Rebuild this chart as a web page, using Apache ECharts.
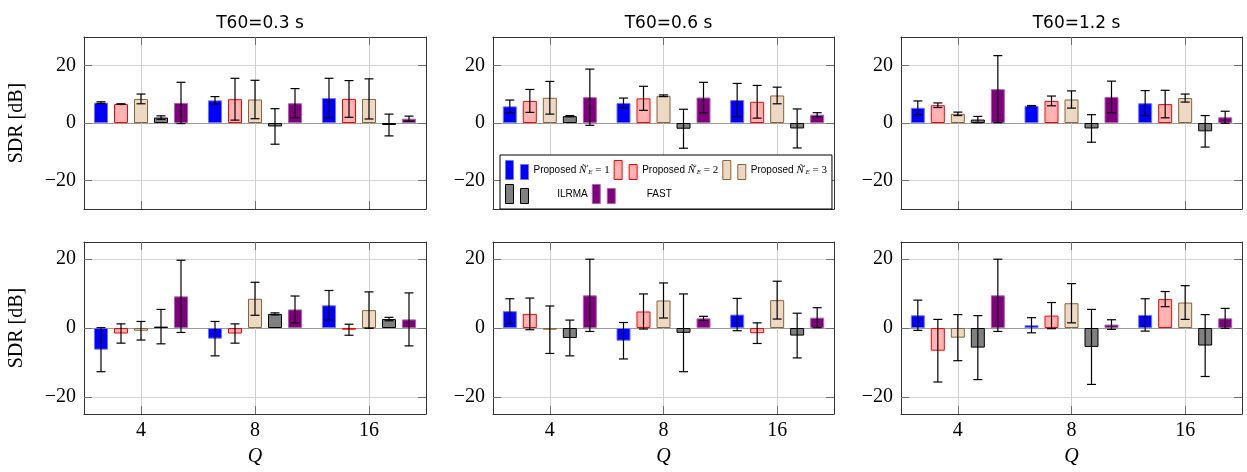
<!DOCTYPE html>
<html>
<head>
<meta charset="utf-8">
<script src="https://cdn.jsdelivr.net/npm/echarts@6/dist/echarts.min.js"></script>
<style>
  html, body { margin: 0; padding: 0; background: #fff; }
  #chart { width: 1247px; height: 472px; }
</style>
</head>
<body>
<div id="chart"></div>
<script>
// categories and panel titles
const qLabels = ['4', '8', '16']
const t60Titles = ['T60=0.3 s', 'T60=0.6 s', 'T60=1.2 s']
const methodNames = ['Proposed Ñ′E = 1', 'Proposed Ñ′E = 2', 'Proposed Ñ′E = 3', 'ILRMA', 'FAST']
const yTicks = [-20, 0, 20]

// rows: top T60=0.3, 0.6, 1.2, then bottom T60=0.3, 0.6, 1.2 ; columns: Q = 4, 8, 16
const prop1Mean = [
  [7.1, 7.9, 8.7],
  [5.8, 7.0, 8.0],
  [5.3, 6.0, 6.9],
  [-6.3, -3.1, 6.6],
  [4.9, -3.7, 3.9],
  [3.7, 0.8, 3.8]
]
const prop1Err = [
  [0.3, 1.3, 6.9],
  [2.2, 1.7, 5.8],
  [2.4, 0.1, 4.4],
  [6.4, 5.0, 4.3],
  [3.6, 5.3, 4.7],
  [4.4, 2.2, 4.7]
]
const prop2Mean = [
  [6.6, 8.3, 8.4],
  [7.7, 8.6, 7.4],
  [6.2, 7.7, 6.6],
  [-1.6, -1.6, -0.5],
  [4.1, 4.8, -1.5],
  [-6.6, 3.6, 8.4]
]
const prop2Err = [
  [0.1, 7.3, 6.4],
  [4.0, 4.2, 5.7],
  [0.8, 1.7, 4.8],
  [2.8, 2.8, 1.6],
  [4.6, 5.1, 3.0],
  [9.1, 3.8, 2.2]
]
const prop3Mean = [
  [8.4, 8.2, 8.4],
  [8.8, 9.5, 9.6],
  [3.2, 8.2, 8.7],
  [-0.8, 8.5, 5.2],
  [-0.5, 8.0, 8.1],
  [-2.8, 7.2, 7.4]
]
const prop3Err = [
  [1.7, 6.7, 7.0],
  [5.7, 0.3, 2.9],
  [0.6, 3.0, 1.4],
  [2.7, 4.8, 5.3],
  [6.9, 5.1, 5.5],
  [6.7, 5.7, 4.9]
]
const ilrmaMean = [
  [1.9, -1.2, -0.7],
  [2.4, -2.0, -1.9],
  [1.2, -1.9, -2.9],
  [0.4, 4.1, 2.6],
  [-2.9, -1.4, -2.2],
  [-5.7, -5.5, -5.1]
]
const ilrmaErr = [
  [0.6, 6.2, 3.8],
  [0.2, 6.8, 6.8],
  [1.1, 4.8, 5.5],
  [5.0, 0.3, 0.5],
  [5.2, 11.3, 6.5],
  [9.3, 10.9, 9.0]
]
const fastMean = [
  [7.0, 6.9, 1.5],
  [9.0, 8.9, 2.9],
  [11.8, 9.1, 2.0],
  [9.2, 5.4, 2.5],
  [9.5, 2.8, 3.0],
  [9.5, 1.0, 2.8]
]
const fastErr = [
  [7.2, 5.1, 0.9],
  [9.8, 5.3, 0.7],
  [11.7, 5.5, 2.1],
  [10.5, 3.9, 7.7],
  [10.5, 0.6, 2.9],
  [10.5, 1.4, 2.9]
]

const means = [prop1Mean, prop2Mean, prop3Mean, ilrmaMean, fastMean]
const errs = [prop1Err, prop2Err, prop3Err, ilrmaErr, fastErr]

const barStyles = [
  { color: '#0000ff', borderColor: '#7373ff' },
  { color: '#ffb3b3', borderColor: '#ff0000' },
  { color: '#ecd9c4', borderColor: '#8e6136' },
  { color: '#808080', borderColor: '#000000' },
  { color: '#800080', borderColor: '#a866a8' }
]

const SERIF = '"Liberation Serif", "DejaVu Serif", serif'
const SANS = '"Liberation Sans", Arial, sans-serif'
const BAR_W = 14
const BAR_STEP = 20
const CAP = 4.5

const gridLefts = [84, 493, 901]
const gridWidths = [342, 341, 341]
const gridTops = [37, 242]
const GRID_H = 172
const yRanges = [[-30, 30], [-25, 25]]

const legendIcon = 'path://M0,0h8v19h-8z M15,4h8v15h-8z'

const errorBar = offset => (params, api) => {
  const ci = api.value(0)
  const m = api.value(1)
  const e = api.value(2)
  const hi = api.coord([ci, m + e])
  const lo = api.coord([ci, m - e])
  const x = hi[0] + offset
  const style = { stroke: '#000', lineWidth: 1.2 }
  return {
    type: 'group',
    children: [
      { type: 'line', shape: { x1: x, y1: hi[1], x2: x, y2: lo[1] }, style },
      { type: 'line', shape: { x1: x - CAP, y1: hi[1], x2: x + CAP, y2: hi[1] }, style },
      { type: 'line', shape: { x1: x - CAP, y1: lo[1], x2: x + CAP, y2: lo[1] }, style }
    ]
  }
}

const grids = []
const xAxes = []
const yAxes = []
const titles = []
const series = []

for (let p = 0; p < 6; p++) {
  const row = Math.floor(p / 3)
  const col = p % 3
  grids.push({ left: gridLefts[col], top: gridTops[row], width: gridWidths[col], height: GRID_H })
  if (row === 0) {
    titles.push({
      text: t60Titles[col],
      left: gridLefts[col] + gridWidths[col] / 2,
      top: 10,
      textAlign: 'center',
      textStyle: { fontFamily: '"DejaVu Sans", sans-serif', fontSize: 17, fontWeight: 'normal', color: '#000' }
    })
  }
  const tick = { show: true, inside: true, length: 8, alignWithLabel: true, lineStyle: { color: '#6e6e6e', width: 1 } }
  xAxes.push({
    gridIndex: p, type: 'category', data: qLabels, position: 'bottom',
    axisLine: { show: true, onZero: false, lineStyle: { color: '#333', width: 1 } },
    axisTick: tick,
    axisLabel: { show: row === 1, fontFamily: SERIF, fontSize: 20, color: '#000', margin: 7 },
    splitLine: { show: true, alignWithLabel: true, lineStyle: { color: '#cfcfcf', width: 1 } },
    name: row === 1 ? 'Q' : '', nameLocation: 'middle', nameGap: 33,
    nameTextStyle: { fontFamily: SERIF, fontStyle: 'italic', fontSize: 20, color: '#000' }
  })
  xAxes.push({
    gridIndex: p, type: 'category', data: qLabels, position: 'top',
    axisLine: { show: true, onZero: false, lineStyle: { color: '#333', width: 1 } },
    axisTick: tick,
    axisLabel: { show: false },
    splitLine: { show: false }
  })
  const [ymin, ymax] = yRanges[row]
  const ytick = { show: true, inside: true, length: 8, customValues: yTicks, lineStyle: { color: '#6e6e6e', width: 1 } }
  yAxes.push({
    gridIndex: p, type: 'value', min: ymin, max: ymax, position: 'left',
    axisLine: { show: true, onZero: false, lineStyle: { color: '#333', width: 1 } },
    axisTick: ytick,
    axisLabel: { customValues: yTicks, fontFamily: SERIF, fontSize: 20, color: '#000', margin: 8,
      formatter: v => (v < 0 ? '\u2212' + Math.abs(v) : String(v)) },
    splitLine: { show: true, lineStyle: { color: ['#d4d4d4', '#9a9a9a', '#d4d4d4'], width: 1 } },
    name: col === 0 ? 'SDR [dB]' : '', nameLocation: 'middle', nameGap: 57,
    nameTextStyle: { fontFamily: SERIF, fontSize: 20, color: '#000' }
  })
  yAxes.push({
    gridIndex: p, type: 'value', min: ymin, max: ymax, position: 'right',
    axisLine: { show: true, onZero: false, lineStyle: { color: '#333', width: 1 } },
    axisTick: ytick,
    axisLabel: { show: false },
    splitLine: { show: false }
  })

  for (let m = 0; m < 5; m++) {
    series.push({
      type: 'bar',
      name: methodNames[m],
      xAxisIndex: p * 2,
      yAxisIndex: p * 2,
      data: means[m][p],
      barWidth: BAR_W,
      barGap: ((BAR_STEP - BAR_W) / BAR_W * 100) + '%',
      itemStyle: { color: barStyles[m].color, borderColor: barStyles[m].borderColor, borderWidth: 1 },
      emphasis: { disabled: true },
      z: 2
    })
  }
  for (let m = 0; m < 5; m++) {
    series.push({
      type: 'custom',
      name: 'err-' + m,
      xAxisIndex: p * 2,
      yAxisIndex: p * 2,
      data: qLabels.map((q, i) => [i, means[m][p][i], errs[m][p][i]]),
      encode: { x: 0, y: 1 },
      renderItem: errorBar((m - 2) * BAR_STEP),
      z: 5,
      silent: true
    })
  }
}

const chart = echarts.init(document.getElementById('chart'), null, { renderer: 'canvas' })
chart.setOption({
  animation: false,
  backgroundColor: '#fff',
  title: titles,
  grid: grids,
  xAxis: xAxes,
  yAxis: yAxes,
  legend: {
    data: methodNames,
    left: 500, top: 155, width: 322,
    padding: [5, 5],
    itemGap: 4,
    itemWidth: 23, itemHeight: 19,
    icon: legendIcon,
    selectedMode: false,
    backgroundColor: '#fff',
    borderColor: '#000', borderWidth: 1, borderRadius: 0,
    itemStyle: { borderWidth: 1 },
    formatter: name => {
      if (name.startsWith('Proposed')) {
        return '{t|Proposed }{m|Ñ}{sup|′}{sub|E}{r| = ' + name.slice(-1) + '}'
      }
      return '{c|' + name + '}'
    },
    textStyle: {
      color: '#000',
      rich: {
        t: { fontFamily: SANS, fontSize: 10, color: '#000' },
        c: { fontFamily: SANS, fontSize: 10, color: '#000', width: 78, align: 'center' },
        m: { fontFamily: SERIF, fontStyle: 'italic', fontSize: 11, color: '#000' },
        sup: { fontFamily: SERIF, fontSize: 8, color: '#000', verticalAlign: 'top' },
        sub: { fontFamily: SERIF, fontStyle: 'italic', fontSize: 7, color: '#000', verticalAlign: 'bottom' },
        r: { fontFamily: SERIF, fontSize: 11, color: '#000' }
      }
    }
  },
  series
})
</script>
</body>
</html>
